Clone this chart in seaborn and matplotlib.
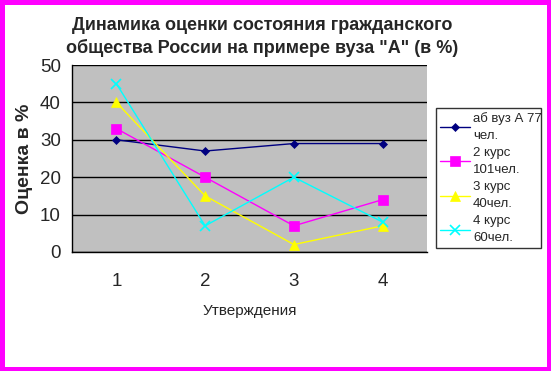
import matplotlib
matplotlib.use("Agg")
import matplotlib.pyplot as plt
import seaborn as sns
import pandas as pd
from matplotlib.patches import Rectangle

sns.set_style("white")
plt.rcParams['font.family'] = ['Liberation Sans', 'DejaVu Sans']

categories = [1, 2, 3, 4]
series_names = ["аб вуз А 77\nчел.", "2 курс\n101чел.", "3 курс\n40чел.", "4 курс\n60чел."]
s_ab = [30, 27, 29, 29]
s_k2 = [33, 20, 7, 14]
s_k3 = [40, 15, 2, 7]
s_k4 = [45, 7, 20, 8]
y_ticks = [0, 10, 20, 30, 40, 50]

rows = []
for name, vals in zip(series_names, [s_ab, s_k2, s_k3, s_k4]):
    for c, v in zip(categories, vals):
        rows.append({"cat": c, "val": v, "series": name})
df = pd.DataFrame(rows)

colors = ["#000080", "#FF00FF", "#FFFF00", "#00FFFF"]
markers = ["D", "s", "^", "x"]
msizes = [4, 6.5, 6.5, 6.5]

fig = plt.figure(figsize=(5.51, 3.71), dpi=100)
fig.patch.set_facecolor("white")
ax = fig.add_axes([72 / 551, 1 - 252 / 371, (427 - 72) / 551, (252 - 65) / 371])
ax.set_facecolor("#C0C0C0")

for i, name in enumerate(series_names):
    sub = df[df["series"] == name]
    sns.lineplot(data=sub, x="cat", y="val", ax=ax, color=colors[i],
                 marker=markers[i], markersize=msizes[i], linewidth=1,
                 markeredgecolor=colors[i], markeredgewidth=1.2 if markers[i] == "x" else 0.5,
                 label=name)

ax.set_xlim(0.5, 4.5)
ax.set_ylim(0, 50)
ax.set_yticks(y_ticks)
ax.set_yticklabels([str(t) for t in y_ticks], fontsize=13.5)
ax.set_xticks(categories)
ax.set_xticklabels([str(c) for c in categories], fontsize=13.5)
ax.set_xticks([0.5, 1.5, 2.5, 3.5, 4.5], minor=True)
ax.tick_params(axis="x", which="major", length=0, pad=15)
ax.tick_params(axis="x", which="minor", length=5, width=1, color="black", direction="out")
ax.tick_params(axis="y", which="major", length=5, width=1, color="black", direction="out", pad=3)
ax.grid(axis="y", color="black", linewidth=1)
ax.set_axisbelow(True)
for side in ["top", "right"]:
    ax.spines[side].set_visible(False)
for side in ["left", "bottom"]:
    ax.spines[side].set_color("black")
    ax.spines[side].set_linewidth(1)

ax.set_xlabel("Утверждения", fontsize=11, labelpad=10)
ax.set_ylabel("Оценка в %", fontsize=14, fontweight="bold", labelpad=5)

fig.text(262 / 551, 1 - 17 / 371, "Динамика оценки состояния гражданского\nобщества России на примере вуза \"А\" (в %)",
         ha="center", va="top", fontsize=13, fontweight="bold", linespacing=1.38)

leg = ax.legend(loc="upper left", bbox_to_anchor=(436 / 551, 1 - 250 / 371, 105 / 551, 142 / 371),
                bbox_transform=fig.transFigure, mode="expand", fontsize=9.5, frameon=True,
                fancybox=False, edgecolor="black", handlelength=2.3,
                labelspacing=0.35, borderpad=0.3, handletextpad=0.2, borderaxespad=0)
leg.get_frame().set_linewidth(1)
for t in leg.get_texts():
    t.set_linespacing(1.6)

fig.patches.append(Rectangle((0.0045, 0.0065), 0.991, 0.987, transform=fig.transFigure,
                             fill=False, edgecolor="#FF00FF", linewidth=3.6, figure=fig))

fig.savefig("out.png", dpi=100)
